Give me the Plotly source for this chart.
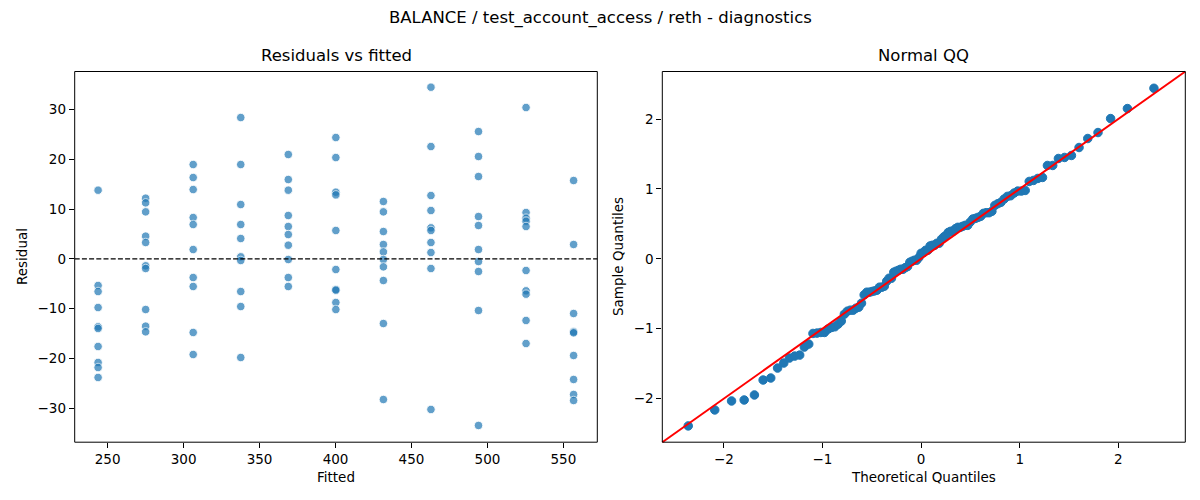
## plot.py
# Residual diagnostics: residuals vs fitted, and a normal QQ plot

## Imports
from statistics import NormalDist
import plotly.graph_objects as go

#-------------------------------------------------------------------------------
## Data
fitted_levels = [243.7, 275.0, 306.3, 337.6, 368.9, 400.2,
                 431.5, 462.8, 494.1, 525.4, 556.7]
resid_243 = [13.78, -5.35, -6.56, -9.77, -13.65, -13.98, -17.59, -20.80,
             -21.81, -23.81]
resid_275 = [12.17, 11.24, 9.43, 4.55, 3.28, -1.40, -1.94, -10.17, -13.51,
             -14.65]
resid_306 = [18.93, 16.32, 13.91, 8.29, 6.89, 1.87, -3.75, -5.55, -14.78,
             -19.20]
resid_337 = [28.36, 18.93, 10.90, 6.89, 4.08, 0.40, -0.33, -6.56, -9.57,
             -19.80]
resid_369 = [20.94, 15.92, 13.78, 8.70, 6.49, 4.88, 2.74, -0.13, -3.75, -5.55]
resid_400 = [24.35, 20.33, 13.38, 12.84, 5.69, -2.14, -6.15, -6.29, -8.76,
             -10.17]
resid_431 = [11.51, 9.43, 5.48, 2.88, 1.40, -0.13, -1.61, -4.35, -12.98,
             -28.23]
resid_463 = [34.45, 22.54, 12.71, 9.70, 6.22, 5.69, 3.28, 1.27, -1.94, -30.23]
resid_494 = [25.55, 20.54, 16.52, 8.49, 6.69, 1.87, -0.54, -2.54, -10.37,
             -33.44]
resid_525 = [30.37, 9.30, 8.16, 7.56, 6.49, -2.34, -6.42, -7.09, -12.37,
             -16.99]
resid_557 = [15.72, 2.88, -10.97, -14.65, -14.85, -19.40, -24.21, -27.22,
             -28.43]
residuals = [resid_243, resid_275, resid_306, resid_337, resid_369, resid_400,
             resid_431, resid_463, resid_494, resid_525, resid_557]

x_ticks_left = [250, 300, 350, 400, 450, 500, 550]
y_ticks_left = [-30, -20, -10, 0, 10, 20, 30]
ticks_qq = [-2, -1, 0, 1, 2]

#-------------------------------------------------------------------------------
## Flatten for the scatter
fit_x = []
res_y = []
for f, col in zip(fitted_levels, residuals):
    for r in col:
        fit_x.append(f)
        res_y.append(r)

## QQ: sorted standardized residuals against normal plotting positions
n = len(res_y)
mu = sum(res_y) / n
sd = (sum((r - mu) ** 2 for r in res_y) / n) ** 0.5
sample_q = sorted((r - mu) / sd for r in res_y)
theo_q = [NormalDist().inv_cdf(i / (n + 1)) for i in range(1, n + 1)]

#-------------------------------------------------------------------------------
## Figure
font_family = "DejaVu Sans"
W, H = 1200, 500
left_dom = [74.7 / W, 597.3 / W]
right_dom = [662.3 / W, 1185.3 / W]
y_dom = [1 - 442.2 / H, 1 - 71.5 / H]

fig = go.Figure()
fig.add_trace(go.Scatter(
    x=fit_x, y=res_y, mode="markers", xaxis="x", yaxis="y",
    marker=dict(color="#1f77b4", size=8.5, opacity=0.7,
                line=dict(color="white", width=0.9)),
    showlegend=False))
fig.add_trace(go.Scatter(
    x=theo_q, y=sample_q, mode="markers", xaxis="x2", yaxis="y2",
    marker=dict(color="#1f77b4", size=8.5,
                line=dict(color="#1f77b4", width=1)),
    showlegend=False))

axis_common = dict(showline=False, ticks="outside", ticklen=5,
    tickcolor="black", tickwidth=1, showgrid=False, zeroline=False,
    tickfont=dict(family=font_family, size=13.5, color="black"))


def label(text, x, y, size=13.5, angle=0):
    return dict(text=text, x=x / W, y=1 - y / H, xref="paper", yref="paper",
                xanchor="center", yanchor="middle", textangle=angle,
                showarrow=False, font=dict(size=size))


frame = dict(color="black", width=1)
fig.update_layout(
    width=W, height=H, template="none",
    margin=dict(l=0, r=0, t=0, b=0),
    paper_bgcolor="white", plot_bgcolor="white",
    font=dict(family=font_family, color="black"),
    xaxis=dict(domain=left_dom, range=[228.3, 572.3],
               tickvals=x_ticks_left, anchor="y", **axis_common),
    yaxis=dict(domain=y_dom, range=[-36.8, 37.6],
               tickvals=y_ticks_left, anchor="x", **axis_common),
    xaxis2=dict(domain=right_dom, range=[-2.625, 2.68],
                tickvals=ticks_qq, anchor="y2", **axis_common),
    yaxis2=dict(domain=y_dom, range=[-2.625, 2.68],
                tickvals=ticks_qq, anchor="x2", **axis_common),
    shapes=[
        dict(type="line", xref="x domain", yref="y", x0=0, x1=1, y0=0, y1=0,
             line=dict(color="black", width=1.3, dash="5px,2.2px")),
        # 45 degree reference line (equal x/y ranges -> domain diagonal)
        dict(type="line", xref="x2 domain", yref="y2 domain",
             x0=0, y0=0, x1=1, y1=1, line=dict(color="red", width=2)),
        dict(type="rect", xref="x domain", yref="y domain",
             x0=0, y0=0, x1=1, y1=1, line=frame),
        dict(type="rect", xref="x2 domain", yref="y2 domain",
             x0=0, y0=0, x1=1, y1=1, line=frame),
    ],
    annotations=[
        label("BALANCE / test_account_access / reth - diagnostics",
              600, 18, size=16.5),
        label("Residuals vs fitted", (74.7 + 597.3) / 2, 56, size=16.5),
        label("Normal QQ", (662.3 + 1185.3) / 2, 56, size=16.5),
        label("Fitted", (74.7 + 597.3) / 2, 477),
        label("Theoretical Quantiles", (662.3 + 1185.3) / 2, 477),
        label("Residual", 22, 257, angle=-90),
        label("Sample Quantiles", 618, 257, angle=-90),
    ])

fig.write_html("out.html", config={"displayModeBar": False},
               post_script="document.body.style.margin = '0';")
